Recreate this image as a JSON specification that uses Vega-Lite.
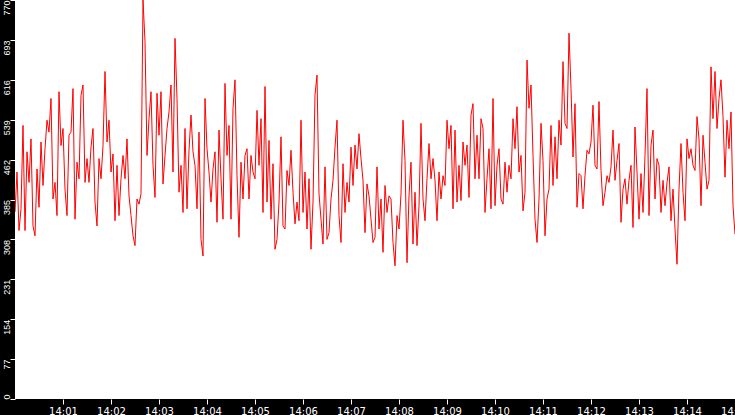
{
  "$schema": "https://vega.github.io/schema/vega-lite/v6.json",
  "autosize": {"type": "none"},
  "padding": {"left": 15, "top": 0, "right": 0, "bottom": 16},
  "width": 720,
  "height": 399,
  "background": "#000000",
  "data": {
    "values": [
      {"t": 0, "v": 361}, {"t": 2.5, "v": 438}, {"t": 5, "v": 325}, {"t": 7.5, "v": 367}, {"t": 10, "v": 528},
      {"t": 12.5, "v": 325}, {"t": 15, "v": 477}, {"t": 17.5, "v": 418}, {"t": 20, "v": 502}, {"t": 22.5, "v": 334},
      {"t": 25, "v": 315}, {"t": 27.5, "v": 444}, {"t": 30, "v": 370}, {"t": 32.5, "v": 496}, {"t": 35, "v": 412},
      {"t": 37.5, "v": 483}, {"t": 40, "v": 538}, {"t": 42.5, "v": 515}, {"t": 45, "v": 580}, {"t": 47.5, "v": 386},
      {"t": 50, "v": 418}, {"t": 52.5, "v": 354}, {"t": 55, "v": 593}, {"t": 57.5, "v": 489}, {"t": 60, "v": 522},
      {"t": 62.5, "v": 405}, {"t": 65, "v": 354}, {"t": 67.5, "v": 509}, {"t": 70, "v": 515}, {"t": 72.5, "v": 599},
      {"t": 75, "v": 347}, {"t": 77.5, "v": 457}, {"t": 80, "v": 425}, {"t": 82.5, "v": 586}, {"t": 85, "v": 606},
      {"t": 87.5, "v": 418}, {"t": 90, "v": 464}, {"t": 92.5, "v": 418}, {"t": 95, "v": 486}, {"t": 97.5, "v": 522},
      {"t": 100, "v": 380}, {"t": 102.5, "v": 334}, {"t": 105, "v": 464}, {"t": 107.5, "v": 425}, {"t": 110, "v": 489},
      {"t": 112.5, "v": 632}, {"t": 115, "v": 496}, {"t": 117.5, "v": 538}, {"t": 120, "v": 438}, {"t": 122.5, "v": 473},
      {"t": 125, "v": 344}, {"t": 127.5, "v": 451}, {"t": 130, "v": 354}, {"t": 132.5, "v": 425}, {"t": 135, "v": 470},
      {"t": 137.5, "v": 425}, {"t": 140, "v": 502}, {"t": 142.5, "v": 392}, {"t": 145, "v": 354}, {"t": 147.5, "v": 315},
      {"t": 150, "v": 296}, {"t": 152.5, "v": 386}, {"t": 155, "v": 376}, {"t": 157.5, "v": 396}, {"t": 160, "v": 770},
      {"t": 162.5, "v": 690}, {"t": 165, "v": 470}, {"t": 167.5, "v": 541}, {"t": 170, "v": 593}, {"t": 172.5, "v": 451},
      {"t": 175, "v": 389}, {"t": 177.5, "v": 590}, {"t": 180, "v": 509}, {"t": 182.5, "v": 593}, {"t": 185, "v": 415},
      {"t": 187.5, "v": 470}, {"t": 190, "v": 522}, {"t": 192.5, "v": 554}, {"t": 195, "v": 606}, {"t": 197.5, "v": 438},
      {"t": 200, "v": 696}, {"t": 202.5, "v": 580}, {"t": 205, "v": 399}, {"t": 207.5, "v": 451}, {"t": 210, "v": 360},
      {"t": 212.5, "v": 522}, {"t": 215, "v": 367}, {"t": 217.5, "v": 480}, {"t": 220, "v": 548}, {"t": 222.5, "v": 477},
      {"t": 225, "v": 451}, {"t": 227.5, "v": 367}, {"t": 230, "v": 515}, {"t": 232.5, "v": 308}, {"t": 235, "v": 276},
      {"t": 237.5, "v": 580}, {"t": 240, "v": 483}, {"t": 242.5, "v": 438}, {"t": 245, "v": 380}, {"t": 247.5, "v": 444},
      {"t": 250, "v": 477}, {"t": 252.5, "v": 341}, {"t": 255, "v": 519}, {"t": 257.5, "v": 425}, {"t": 260, "v": 347},
      {"t": 262.5, "v": 609}, {"t": 265, "v": 470}, {"t": 267.5, "v": 528}, {"t": 270, "v": 347}, {"t": 272.5, "v": 561},
      {"t": 275, "v": 616}, {"t": 277.5, "v": 431}, {"t": 280, "v": 312}, {"t": 282.5, "v": 457}, {"t": 285, "v": 386},
      {"t": 287.5, "v": 470}, {"t": 290, "v": 483}, {"t": 292.5, "v": 386}, {"t": 295, "v": 470}, {"t": 297.5, "v": 438},
      {"t": 300, "v": 425}, {"t": 302.5, "v": 557}, {"t": 305, "v": 451}, {"t": 307.5, "v": 541}, {"t": 310, "v": 360},
      {"t": 312.5, "v": 603}, {"t": 315, "v": 380}, {"t": 317.5, "v": 499}, {"t": 320, "v": 347}, {"t": 322.5, "v": 454},
      {"t": 325, "v": 289}, {"t": 327.5, "v": 308}, {"t": 330, "v": 380}, {"t": 332.5, "v": 506}, {"t": 335, "v": 334},
      {"t": 337.5, "v": 328}, {"t": 340, "v": 441}, {"t": 342.5, "v": 412}, {"t": 345, "v": 480}, {"t": 347.5, "v": 399},
      {"t": 350, "v": 338}, {"t": 352.5, "v": 380}, {"t": 355, "v": 344}, {"t": 357.5, "v": 538}, {"t": 360, "v": 360},
      {"t": 362.5, "v": 438}, {"t": 365, "v": 328}, {"t": 367.5, "v": 425}, {"t": 370, "v": 289}, {"t": 372.5, "v": 380},
      {"t": 375, "v": 587}, {"t": 377.5, "v": 625}, {"t": 380, "v": 396}, {"t": 382.5, "v": 347}, {"t": 385, "v": 299},
      {"t": 387.5, "v": 448}, {"t": 390, "v": 308}, {"t": 392.5, "v": 321}, {"t": 395, "v": 386}, {"t": 397.5, "v": 422},
      {"t": 400, "v": 486}, {"t": 402.5, "v": 538}, {"t": 405, "v": 354}, {"t": 407.5, "v": 302}, {"t": 410, "v": 454},
      {"t": 412.5, "v": 360}, {"t": 415, "v": 418}, {"t": 417.5, "v": 380}, {"t": 420, "v": 486}, {"t": 422.5, "v": 412},
      {"t": 425, "v": 490}, {"t": 427.5, "v": 444}, {"t": 430, "v": 512}, {"t": 432.5, "v": 464}, {"t": 435, "v": 422},
      {"t": 437.5, "v": 321}, {"t": 440, "v": 415}, {"t": 442.5, "v": 392}, {"t": 445, "v": 347}, {"t": 447.5, "v": 302},
      {"t": 450, "v": 312}, {"t": 452.5, "v": 448}, {"t": 455, "v": 328}, {"t": 457.5, "v": 386}, {"t": 460, "v": 283},
      {"t": 462.5, "v": 412}, {"t": 465, "v": 360}, {"t": 467.5, "v": 392}, {"t": 470, "v": 386}, {"t": 472.5, "v": 302},
      {"t": 475, "v": 257}, {"t": 477.5, "v": 354}, {"t": 480, "v": 328}, {"t": 482.5, "v": 396}, {"t": 485, "v": 538},
      {"t": 487.5, "v": 460}, {"t": 490, "v": 263}, {"t": 492.5, "v": 392}, {"t": 495, "v": 457}, {"t": 497.5, "v": 299},
      {"t": 500, "v": 399}, {"t": 502.5, "v": 296}, {"t": 505, "v": 373}, {"t": 507.5, "v": 532}, {"t": 510, "v": 386},
      {"t": 512.5, "v": 344}, {"t": 515, "v": 425}, {"t": 517.5, "v": 493}, {"t": 520, "v": 425}, {"t": 522.5, "v": 464},
      {"t": 525, "v": 422}, {"t": 527.5, "v": 344}, {"t": 530, "v": 438}, {"t": 532.5, "v": 386}, {"t": 535, "v": 431},
      {"t": 537.5, "v": 412}, {"t": 540, "v": 538}, {"t": 542.5, "v": 483}, {"t": 545, "v": 528}, {"t": 547.5, "v": 367},
      {"t": 550, "v": 519}, {"t": 552.5, "v": 380}, {"t": 555, "v": 451}, {"t": 557.5, "v": 383}, {"t": 560, "v": 496},
      {"t": 562.5, "v": 451}, {"t": 565, "v": 490}, {"t": 567.5, "v": 389}, {"t": 570, "v": 548}, {"t": 572.5, "v": 570},
      {"t": 575, "v": 425}, {"t": 577.5, "v": 509}, {"t": 580, "v": 425}, {"t": 582.5, "v": 541}, {"t": 585, "v": 522},
      {"t": 587.5, "v": 360}, {"t": 590, "v": 425}, {"t": 592.5, "v": 483}, {"t": 595, "v": 367}, {"t": 597.5, "v": 580},
      {"t": 600, "v": 373}, {"t": 602.5, "v": 451}, {"t": 605, "v": 483}, {"t": 607.5, "v": 386}, {"t": 610, "v": 376},
      {"t": 612.5, "v": 457}, {"t": 615, "v": 399}, {"t": 617.5, "v": 451}, {"t": 620, "v": 425}, {"t": 622.5, "v": 541},
      {"t": 625, "v": 483}, {"t": 627.5, "v": 564}, {"t": 630, "v": 438}, {"t": 632.5, "v": 470}, {"t": 635, "v": 363},
      {"t": 637.5, "v": 399}, {"t": 640, "v": 654}, {"t": 642.5, "v": 561}, {"t": 645, "v": 606}, {"t": 647.5, "v": 470},
      {"t": 650, "v": 347}, {"t": 652.5, "v": 302}, {"t": 655, "v": 386}, {"t": 657.5, "v": 532}, {"t": 660, "v": 460},
      {"t": 662.5, "v": 315}, {"t": 665, "v": 386}, {"t": 667.5, "v": 405}, {"t": 670, "v": 528}, {"t": 672.5, "v": 412},
      {"t": 675, "v": 506}, {"t": 677.5, "v": 425}, {"t": 680, "v": 538}, {"t": 682.5, "v": 490}, {"t": 685, "v": 651},
      {"t": 687.5, "v": 532}, {"t": 690, "v": 522}, {"t": 692.5, "v": 706}, {"t": 695, "v": 599}, {"t": 697.5, "v": 467},
      {"t": 700, "v": 570}, {"t": 702.5, "v": 370}, {"t": 705, "v": 435}, {"t": 707.5, "v": 431}, {"t": 710, "v": 367},
      {"t": 712.5, "v": 431}, {"t": 715, "v": 480}, {"t": 717.5, "v": 473}, {"t": 720, "v": 496}, {"t": 722.5, "v": 567},
      {"t": 725, "v": 451}, {"t": 727.5, "v": 444}, {"t": 730, "v": 574}, {"t": 732.5, "v": 441}, {"t": 735, "v": 373},
      {"t": 737.5, "v": 399}, {"t": 740, "v": 431}, {"t": 742.5, "v": 418}, {"t": 745, "v": 448}, {"t": 747.5, "v": 519},
      {"t": 750, "v": 422}, {"t": 752.5, "v": 460}, {"t": 755, "v": 493}, {"t": 757.5, "v": 341}, {"t": 760, "v": 405},
      {"t": 762.5, "v": 425}, {"t": 765, "v": 376}, {"t": 767.5, "v": 422}, {"t": 770, "v": 451}, {"t": 772.5, "v": 331},
      {"t": 775, "v": 525}, {"t": 777.5, "v": 438}, {"t": 780, "v": 347}, {"t": 782.5, "v": 435}, {"t": 785, "v": 360},
      {"t": 787.5, "v": 470}, {"t": 790, "v": 599}, {"t": 792.5, "v": 354}, {"t": 795, "v": 490}, {"t": 797.5, "v": 519},
      {"t": 800, "v": 386}, {"t": 802.5, "v": 464}, {"t": 805, "v": 451}, {"t": 807.5, "v": 360}, {"t": 810, "v": 422},
      {"t": 812.5, "v": 373}, {"t": 815, "v": 418}, {"t": 817.5, "v": 448}, {"t": 820, "v": 344}, {"t": 822.5, "v": 405},
      {"t": 825, "v": 328}, {"t": 827.5, "v": 260}, {"t": 830, "v": 405}, {"t": 832.5, "v": 493}, {"t": 835, "v": 399},
      {"t": 837.5, "v": 344}, {"t": 840, "v": 502}, {"t": 842.5, "v": 464}, {"t": 845, "v": 483}, {"t": 847.5, "v": 451},
      {"t": 850, "v": 441}, {"t": 852.5, "v": 545}, {"t": 855, "v": 502}, {"t": 857.5, "v": 373}, {"t": 860, "v": 509},
      {"t": 862.5, "v": 457}, {"t": 865, "v": 405}, {"t": 867.5, "v": 422}, {"t": 870, "v": 641}, {"t": 872.5, "v": 541},
      {"t": 875, "v": 632}, {"t": 877.5, "v": 522}, {"t": 880, "v": 580}, {"t": 882.5, "v": 616}, {"t": 885, "v": 545},
      {"t": 887.5, "v": 428}, {"t": 890, "v": 538}, {"t": 892.5, "v": 483}, {"t": 895, "v": 554}, {"t": 897.5, "v": 373},
      {"t": 900, "v": 318}
    ]
  },
  "mark": {"type": "line", "color": "#ff0000", "strokeWidth": 1, "clip": true},
  "encoding": {
    "x": {
      "field": "t",
      "type": "quantitative",
      "scale": {"domain": [0, 900], "nice": false, "zero": false},
      "axis": {
        "title": null,
        "values": [60, 120, 180, 240, 300, 360, 420, 480, 540, 600, 660, 720, 780, 840, 900],
        "labelExpr": "'14:' + (datum.value < 600 ? '0' : '') + (datum.value / 60)",
        "labelFlush": false,
        "labelOverlap": false,
        "labelFont": "DejaVu Sans",
        "labelFontSize": 10,
        "labelColor": "#ffffff",
        "labelPadding": 2,
        "tickColor": "#ffffff",
        "tickSize": 5,
        "domain": false,
        "grid": false
      }
    },
    "y": {
      "field": "v",
      "type": "quantitative",
      "scale": {"domain": [0, 770], "nice": false},
      "axis": {
        "title": null,
        "values": [0, 77, 154, 231, 308, 385, 462, 539, 616, 693, 770],
        "labelAngle": 270,
        "labelAlign": {"condition": {"test": "datum.value == 0", "value": "left"}, "value": "right"},
        "labelBaseline": "alphabetic",
        "labelFlush": false,
        "labelOverlap": false,
        "labelFont": "Liberation Sans",
        "labelFontSize": 9,
        "labelColor": "#ffffff",
        "labelPadding": 1,
        "tickColor": "#ffffff",
        "tickSize": 5,
        "domain": false,
        "grid": false
      }
    }
  },
  "config": {
    "view": {"fill": "#ffffff", "stroke": null}
  }
}
